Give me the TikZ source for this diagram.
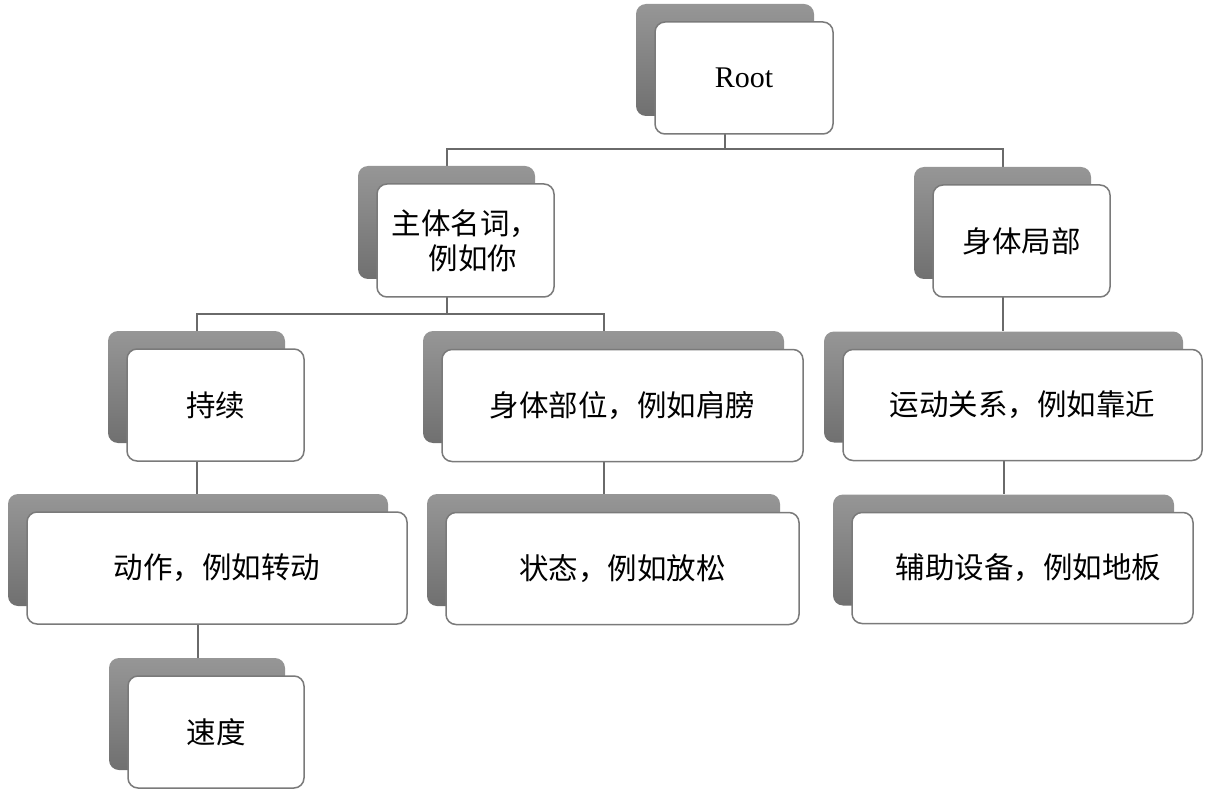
\documentclass[tikz,border=0pt]{standalone}
\usepackage{fontspec}
\setmainfont{Liberation Serif}
\newfontfamily\cjk{Noto Sans CJK SC}
\usetikzlibrary{backgrounds}
\definecolor{boxline}{HTML}{7A7A7A}
\definecolor{connline}{HTML}{6A6A6A}
\definecolor{shadetop}{HTML}{969696}
\definecolor{shadebot}{HTML}{707070}
\tikzset{
  backbox/.style={rectangle, rounded corners=10pt, inner sep=0pt, draw=none,
    top color=shadetop, bottom color=shadebot},
  frontbox/.style={rectangle, rounded corners=10pt, inner sep=0pt, draw=boxline,
    line width=1.5pt, fill=white, align=center,
    font=\cjk\fontsize{29.5}{35}\selectfont, text=black},
  conn/.style={draw=connline, line width=2pt},
}
\begin{document}
\begin{tikzpicture}[x=1pt,y=-1pt]
\useasboundingbox (0,0) rectangle (1207,794);
% shadows (centre = front centre - (19,18))
\node[backbox, minimum width=178pt, minimum height=112pt] (rootS)   at (725,60) {};
\node[backbox, minimum width=177pt, minimum height=113pt] (subjS)   at (446.5,222.5) {};
\node[backbox, minimum width=177pt, minimum height=112pt] (bodyS)   at (1002.5,223) {};
\node[backbox, minimum width=177pt, minimum height=112pt] (contS)   at (196.5,387) {};
\node[backbox, minimum width=361pt, minimum height=112pt] (partS)   at (603.5,387) {};
\node[backbox, minimum width=359pt, minimum height=111pt] (motionS) at (1003.5,387) {};
\node[backbox, minimum width=380pt, minimum height=112pt] (actS)    at (198,550) {};
\node[backbox, minimum width=353pt, minimum height=112pt] (stateS)  at (603.5,550) {};
\node[backbox, minimum width=341pt, minimum height=111pt] (auxS)    at (1003.5,550) {};
\node[backbox, minimum width=176pt, minimum height=112pt] (speedS)  at (197,714) {};
% front boxes
\node[frontbox, minimum width=178pt, minimum height=112pt, font=\rmfamily\fontsize{30}{36}\selectfont] (root) at (744,78) {Root};
\node[frontbox, minimum width=177pt, minimum height=113pt] (subj)   at (465.5,240.5) {主体名词，\\\hspace*{0.5em}例如你};
\node[frontbox, minimum width=177pt, minimum height=112pt] (body)   at (1021.5,241) {身体局部};
\node[frontbox, minimum width=177pt, minimum height=112pt] (cont)   at (215.5,405) {持续};
\node[frontbox, minimum width=361pt, minimum height=112pt] (part)   at (622.5,405.5) {身体部位，例如肩膀};
\node[frontbox, minimum width=359pt, minimum height=111pt] (motion) at (1022.5,405) {运动关系，例如靠近};
\node[frontbox, minimum width=380pt, minimum height=112pt] (act)    at (217,568) {动作，例如转动};
\node[frontbox, minimum width=353pt, minimum height=112pt] (state)  at (622.5,568.5) {状态，例如放松};
\node[frontbox, minimum width=341pt, minimum height=111pt] (aux)    at (1022.5,568) {\hspace*{0.4em}辅助设备，例如地板};
\node[frontbox, minimum width=176pt, minimum height=112pt] (speed)  at (216,732) {速度};
% connectors
\coordinate (bus1) at (0,149);
\coordinate (bus2) at (0,314);
\begin{scope}[on background layer]
\draw[conn] (rootS.south) -- (rootS.south |- bus1) -| (subjS.north);
\draw[conn] (rootS.south |- bus1) -| (bodyS.north);
\draw[conn] (subjS.south) -- (subjS.south |- bus2) -| (contS.north);
\draw[conn] (subjS.south |- bus2) -| (partS.north);
\draw[conn] (bodyS.south) -- (motionS.north -| bodyS.south);
\draw[conn] (contS.south) -- (actS.north -| contS.south);
\draw[conn] (actS.south) -- (speedS.north -| actS.south);
\draw[conn] (partS.south) -- (stateS.north -| partS.south);
\draw[conn] (motionS.south) -- (auxS.north -| motionS.south);
\end{scope}
\end{tikzpicture}
\end{document}
